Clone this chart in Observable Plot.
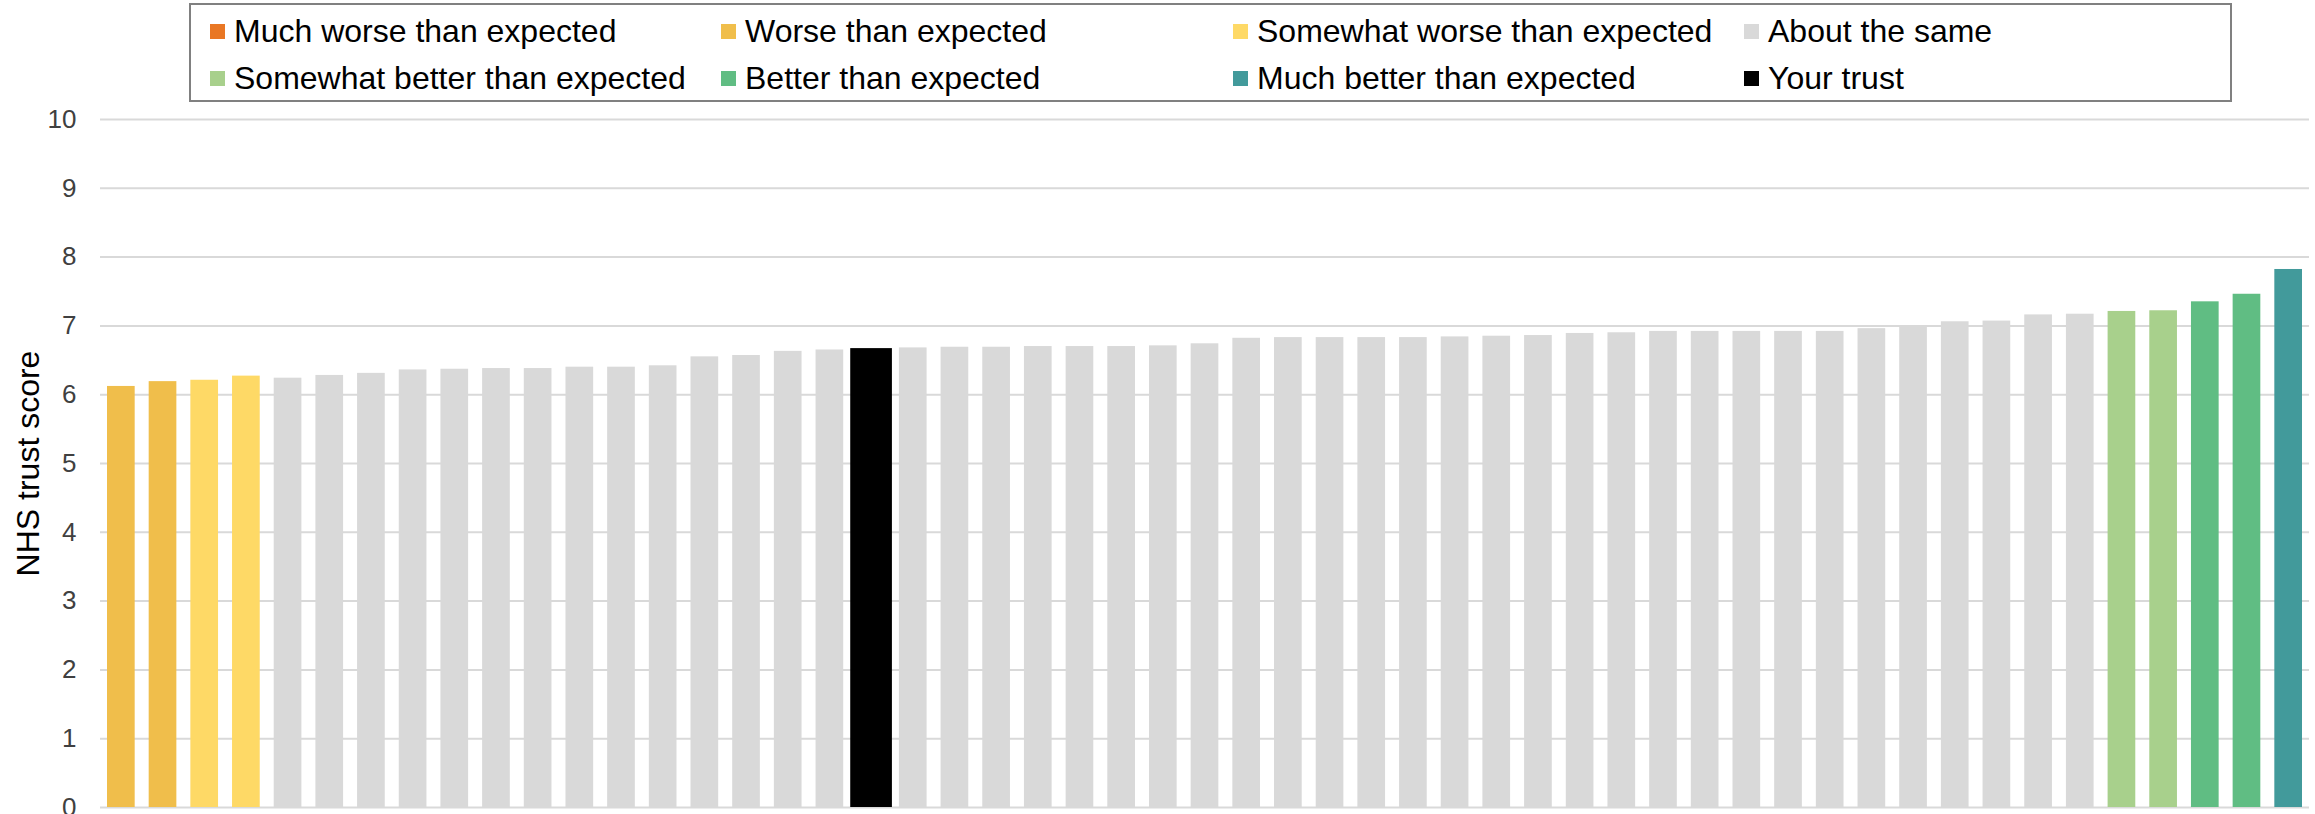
<!DOCTYPE html>
<html>
<head>
<meta charset="utf-8">
<script src="https://cdn.jsdelivr.net/npm/d3@7"></script>
<script src="https://cdn.jsdelivr.net/npm/@observablehq/plot@0.6"></script>
<style>
html, body { margin: 0; padding: 0; background: #fff; overflow: hidden; }
body { width: 2315px; height: 814px; font-family: "Liberation Sans", Arial, sans-serif; }
#legend { position: relative; height: 105px; }
#legend .box { position: absolute; left: 189px; top: 3px; width: 2039px; height: 95px; border: 2px solid #808080; }
#legend .item { position: absolute; display: flex; align-items: center; height: 40px; font-size: 32px; color: #000; white-space: nowrap; }
#legend .sw { width: 15px; height: 15px; margin-right: 9px; flex: none; }
#chart svg { display: block; }
</style>
</head>
<body>
<div id="legend"><div class="box"></div></div>
<div id="chart"></div>
<script>
// Trust scores, sorted ascending
const scores = [
  6.12, 6.19, 6.21, 6.27, 6.24, 6.28, 6.31, 6.36, 6.37, 6.38,
  6.38, 6.40, 6.40, 6.42, 6.55, 6.57, 6.63, 6.65, 6.67, 6.68,
  6.69, 6.69, 6.70, 6.70, 6.70, 6.71, 6.74, 6.82, 6.83, 6.83,
  6.83, 6.83, 6.84, 6.85, 6.86, 6.89, 6.90, 6.92, 6.92, 6.92,
  6.92, 6.92, 6.96, 6.98, 7.06, 7.07, 7.16, 7.17, 7.21, 7.22,
  7.35, 7.46, 7.82
];
// Band of each bar
const bands = [
  "W", "W", "SW", "SW", "S", "S", "S", "S", "S", "S",
  "S", "S", "S", "S", "S", "S", "S", "S", "Y", "S",
  "S", "S", "S", "S", "S", "S", "S", "S", "S", "S",
  "S", "S", "S", "S", "S", "S", "S", "S", "S", "S",
  "S", "S", "S", "S", "S", "S", "S", "S", "SB", "SB",
  "B", "B", "MB"
];
const bandKeys = ["MW", "W", "SW", "S", "SB", "B", "MB", "Y"];
const legendLabels = [
  "Much worse than expected", "Worse than expected", "Somewhat worse than expected", "About the same",
  "Somewhat better than expected", "Better than expected", "Much better than expected", "Your trust"
];
const legendColors = ["#E97724", "#F0BE4B", "#FED966", "#D9D9D9", "#A8D08C", "#60BD83", "#429A9B", "#000000"];
const yTicks = [0, 1, 2, 3, 4, 5, 6, 7, 8, 9, 10];
const yTitle = "NHS trust score";

// Legend (HTML, above the chart)
const legendCols = [210, 721, 1233, 1744];
const legendRows = [31, 78];
const legend = document.getElementById("legend");
legendLabels.forEach((lab, i) => {
  const it = document.createElement("div");
  it.className = "item";
  it.style.left = legendCols[i % 4] + "px";
  it.style.top = (legendRows[Math.floor(i / 4)] - 20) + "px";
  const sw = document.createElement("span");
  sw.className = "sw";
  sw.style.background = legendColors[i];
  const tx = document.createElement("span");
  tx.textContent = lab;
  it.appendChild(sw);
  it.appendChild(tx);
  legend.appendChild(it);
});

const data = scores.map((s, i) => ({
  i,
  score: s,
  group: legendLabels[bandKeys.indexOf(bands[i])]
}));
const yours = data.filter(d => d.group === "Your trust");
const others = data.filter(d => d.group !== "Your trust");

const chart = Plot.plot({
  width: 2315,
  height: 709,
  marginLeft: 100,
  marginRight: 6,
  marginTop: 14,
  marginBottom: 7,
  style: { fontFamily: "'Liberation Sans', Arial, sans-serif", background: "#fff", overflow: "visible" },
  x: { type: "band", domain: d3.range(scores.length), padding: 0, axis: null },
  y: { domain: [0, 10], axis: null },
  color: { domain: legendLabels, range: legendColors },
  marks: [
    Plot.ruleY(yTicks, { stroke: "#D9D9D9", strokeWidth: 2 }),
    Plot.axisY(yTicks, { tickSize: 0, tickPadding: 24, fontSize: 26, fill: "#404040", label: null, tickFormat: d => String(d) }),
    Plot.barY(others, { x: "i", y: "score", fill: "group", insetLeft: 7, insetRight: 7 }),
    Plot.barY(yours, { x: "i", y: "score", fill: "group", insetLeft: 0, insetRight: 0 }),
    Plot.text([yTitle], { text: d => d, frameAnchor: "left", textAnchor: "middle", lineAnchor: "middle", dx: -72, rotate: -90, fontSize: 32, fill: "#000" })
  ]
});
document.getElementById("chart").appendChild(chart);
</script>
</body>
</html>
